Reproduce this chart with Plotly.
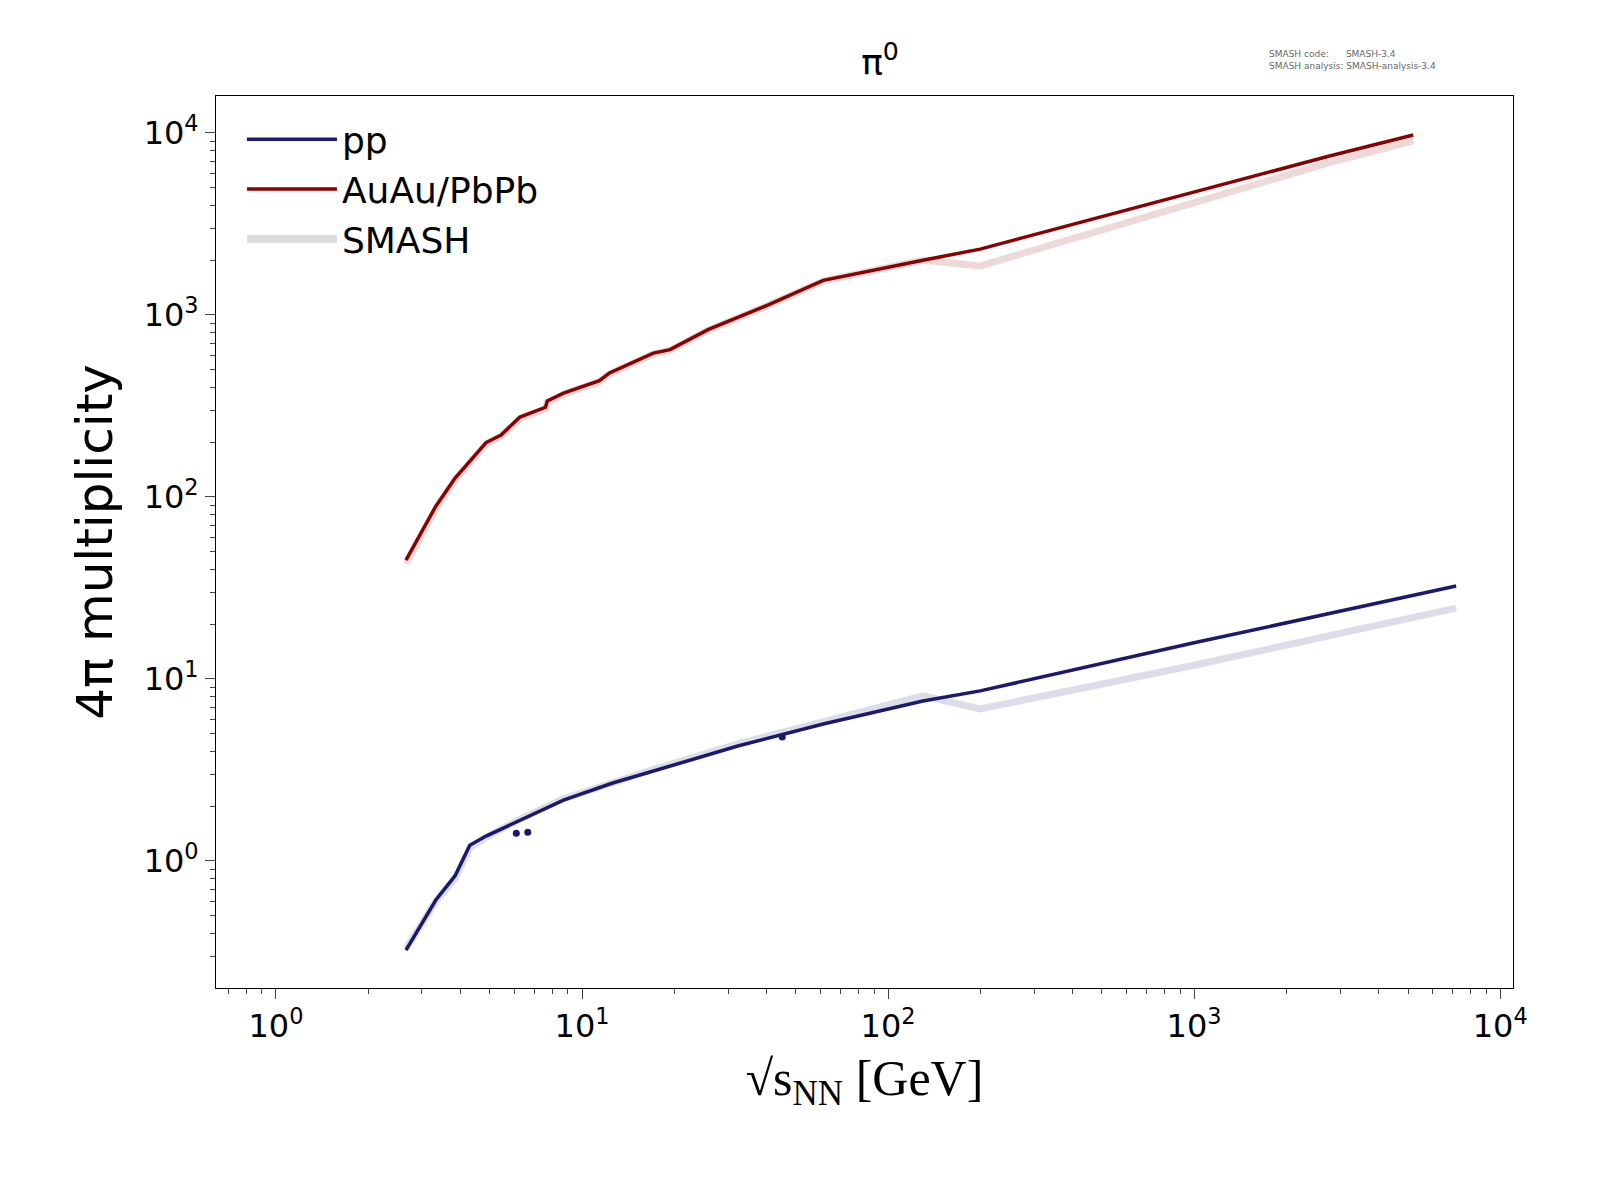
import plotly.graph_objects as go
import numpy as np

aa_x = [2.66,3.33,3.85,4.86,5.44,6.27,7.6,7.7,8.7,11.4,12.3,17.1,19.4,25.8,40.6,61.4,130,200,2750,5200]
aa_y = [45,89,127,199,219,275,311,337,372,435,480,617,645,831,1135,1550,2000,2300,7450,9750]
aa_smash_x = [2.66,3.33,3.85,4.86,5.44,6.27,7.6,7.7,8.7,11.4,12.3,17.1,19.4,25.8,40.6,61.4,130,200,2750,5200]
aa_smash_y = [43,86,124,195,215,270,305,330,366,430,475,610,640,825,1130,1540,2000,1860,6840,9040]
pp_x = [2.66,3.33,3.85,4.3,4.86,6.27,8.7,12.6,17.1,32.3,61.4,130,200,1000,7180]
pp_y = [0.324,0.61,0.83,1.22,1.37,1.68,2.16,2.68,3.12,4.28,5.66,7.57,8.6,15.8,32.4]
pp_smash_x = [2.66,3.33,3.85,4.3,4.86,6.27,8.7,12.6,17.1,32.3,61.4,130,200,1000,7180]
pp_smash_y = [0.33,0.6,0.8,1.18,1.35,1.7,2.2,2.72,3.18,4.4,5.85,8.07,6.84,11.9,24.5]
pp_pts_x = [6.1,6.65,45.1]
pp_pts_y = [1.42,1.44,4.8]

fig = go.Figure()
fig.add_trace(go.Scatter(x=aa_smash_x, y=aa_smash_y, mode="lines", line=dict(color="rgba(139,0,0,0.15)", width=7), showlegend=False))
fig.add_trace(go.Scatter(x=pp_smash_x, y=pp_smash_y, mode="lines", line=dict(color="rgba(25,25,112,0.15)", width=7), showlegend=False))
fig.add_trace(go.Scatter(x=pp_x, y=pp_y, mode="lines", name="pp", line=dict(color="#191970", width=3.5)))
fig.add_trace(go.Scatter(x=aa_x, y=aa_y, mode="lines", name="AuAu/PbPb", line=dict(color="#8b0000", width=3.5)))
fig.add_trace(go.Scatter(x=[None], y=[None], mode="lines", name="SMASH", line=dict(color="#dcdcdc", width=8)))
fig.add_trace(go.Scatter(x=pp_pts_x, y=pp_pts_y, mode="markers", marker=dict(color="#191970", size=7), showlegend=False))

xt = [1,10,100,1000,10000]
yt = [1,10,100,1000,10000]
xminor = [m * 10**d for d in range(-1, 5) for m in range(2, 10)]
yminor = [m * 10**d for d in range(-1, 5) for m in range(2, 10)]
sup = lambda v: "10<sup>%d</sup>" % int(round(np.log10(v)))
fig.update_layout(
    width=1600, height=1200, plot_bgcolor="white", paper_bgcolor="white",
    font=dict(family="DejaVu Sans", color="black", size=32),
    margin=dict(l=208, r=95, t=88, b=220),
    title=dict(text="π<sup>0</sup>", x=0.545, y=0.965, xanchor="center", font=dict(size=36)),
    legend=dict(x=0.02, y=0.985, bgcolor="rgba(0,0,0,0)", font=dict(size=36), itemwidth=90, tracegroupgap=20),
    xaxis=dict(type="log", range=[np.log10(0.637), np.log10(11015)], tickmode="array", tickvals=xt, ticktext=[sup(v) for v in xt],
               showgrid=False, showline=True, linecolor="black", mirror=True, ticks="outside", ticklen=10,
               minor=dict(tickmode="array", tickvals=xminor, ticks="outside", ticklen=5, showgrid=False),
               title=dict(text="√s<sub>NN</sub> [GeV]", font=dict(family="Liberation Serif", size=50))),
    yaxis=dict(type="log", range=[-0.698, 4.203], tickmode="array", tickvals=yt, ticktext=[sup(v) for v in yt],
               showgrid=False, showline=True, linecolor="black", mirror=True, ticks="outside", ticklen=10,
               minor=dict(tickmode="array", tickvals=yminor, ticks="outside", ticklen=5, showgrid=False),
               title=dict(text="4π multiplicity", font=dict(size=50))),
)
fig.add_annotation(text="SMASH code:      SMASH-3.4<br>SMASH analysis: SMASH-analysis-3.4", xref="paper", yref="paper",
                   x=0.81, y=1.055, xanchor="left", yanchor="top", showarrow=False, align="left",
                   font=dict(size=9, color="#666"))
fig.write_html("out.html")
